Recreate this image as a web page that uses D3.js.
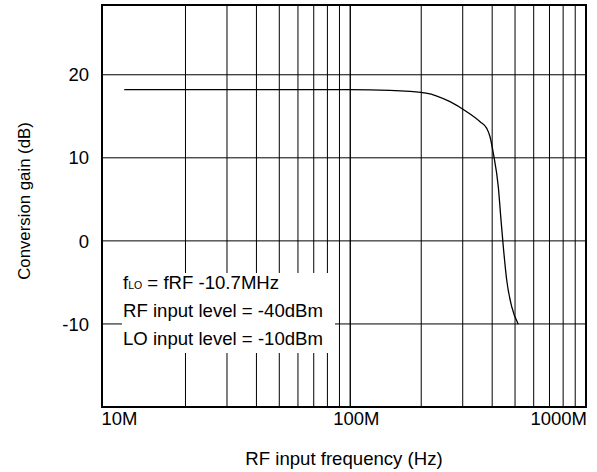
<!DOCTYPE html>
<html>
<head>
<meta charset="utf-8">
<script src="https://cdn.jsdelivr.net/npm/d3@7"></script>
<style>
  html, body { margin: 0; padding: 0; background: #fff; }
  svg text { font-family: "Liberation Sans", Arial, Helvetica, sans-serif; fill: #000; }
</style>
</head>
<body>
<svg id="chart" width="597" height="472"></svg>
<script>
// ---- data ----
const freqMHz = [11, 100, 147.5, 209.6, 264.9, 311.9, 355.3, 379.3, 391.6, 404.5, 424.6, 436.0, 445.9, 460.9, 484.0, 516.1];
const gainDb  = [18.2, 18.2, 18.13, 17.8, 16.76, 15.55, 14.35, 13.55, 12.54, 10.54, 6.52, 2.51, -0.7, -4.71, -7.92, -10.04];
const xTickValues = [1e7, 1e8, 1e9];
const xTickLabels = ["10M", "100M", "1000M"];
const yTickValues = [20, 10, 0, -10];
const yTickLabels = ["20", "10", "0", "-10"];
const legendLines = ["fLO = fRF -10.7MHz", "RF input level = -40dBm", "LO input level = -10dBm"];
const xTitle = "RF input frequency (Hz)";
const yTitle = "Conversion gain (dB)";

// ---- layout ----
const svg = d3.select("#chart");
const L = 102, R = 586, T = 5, B = 407;
const x = d3.scaleLog().domain([8.85e6, 1e9]).range([L, R]);
const y = d3.scaleLinear().domain([-20, 28.4]).range([B, T]);

// gridlines (vertical): 2..9 x each decade plus decades
const vGrid = [];
[1e7, 1e8].forEach(d => { for (let k = 1; k <= 9; k++) { const v = d * k; if (v > 1e7) vGrid.push(v); } });
vGrid.push(1e8);
const g = svg.append("g");
g.selectAll("line.v").data(vGrid).join("line")
  .attr("class", "v")
  .attr("x1", d => x(d)).attr("x2", d => x(d))
  .attr("y1", T).attr("y2", B)
  .attr("stroke", "#000").attr("stroke-width", 1);

g.selectAll("line.h").data(yTickValues).join("line")
  .attr("class", "h")
  .attr("x1", L).attr("x2", R)
  .attr("y1", d => y(d)).attr("y2", d => y(d))
  .attr("stroke", "#000").attr("stroke-width", 1);

// legend box (white, covers gridlines)
svg.append("rect").attr("x", 122).attr("y", 273).attr("width", 213).attr("height", 80).attr("fill", "#fff");

// curve
const pts = freqMHz.map((f, i) => [x(f * 1e6), y(gainDb[i])]);
svg.append("path")
  .attr("d", d3.line().curve(d3.curveMonotoneX)(pts))
  .attr("fill", "none").attr("stroke", "#000").attr("stroke-width", 1.3);

// frame
svg.append("rect").attr("x", L).attr("y", T).attr("width", R - L).attr("height", B - T)
  .attr("fill", "none").attr("stroke", "#000").attr("stroke-width", 2);

// y tick labels
svg.selectAll("text.yt").data(yTickValues).join("text")
  .attr("class", "yt")
  .attr("x", 89).attr("y", d => y(d)).attr("dy", "0.36em")
  .attr("text-anchor", "end").attr("font-size", 18.5)
  .text((d, i) => yTickLabels[i]);

// x tick labels
const xAnchors = ["start", "start", "end"];
const xOffsets = [-13, -17, 1];
svg.selectAll("text.xt").data(xTickValues).join("text")
  .attr("class", "xt")
  .attr("x", (d, i) => x(d) + xOffsets[i]).attr("y", 425)
  .attr("text-anchor", (d, i) => xAnchors[i]).attr("font-size", 18.5)
  .text((d, i) => xTickLabels[i]);

// axis titles
svg.append("text").attr("x", 344).attr("y", 465).attr("text-anchor", "middle")
  .attr("font-size", 18.6).text(xTitle);
svg.append("text").attr("transform", "translate(29.5,201) rotate(-90)").attr("text-anchor", "middle")
  .attr("font-size", 16.8).text(yTitle);

// legend text
const lg = svg.append("g").attr("font-size", 18.6);
const t0 = lg.append("text").attr("x", 123).attr("y", 289);
t0.append("tspan").text("f");
t0.append("tspan").attr("font-size", 10.5).text("LO");
t0.append("tspan").text(" = fRF -10.7MHz");
lg.append("text").attr("x", 123).attr("y", 317).text(legendLines[1]);
lg.append("text").attr("x", 123).attr("y", 345).text(legendLines[2]);
</script>
</body>
</html>
